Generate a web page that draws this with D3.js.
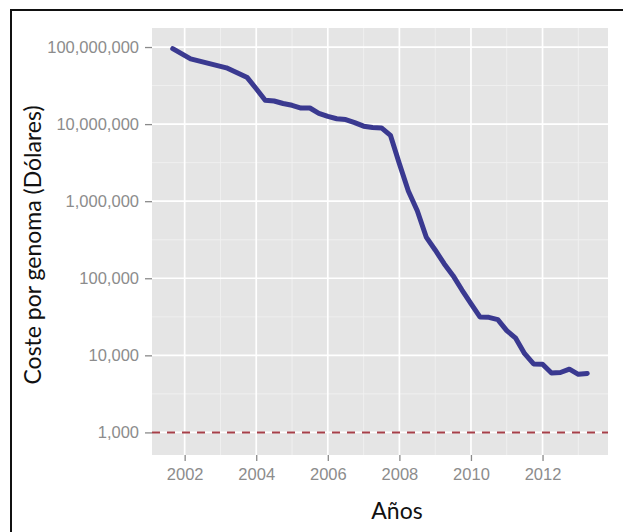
<!DOCTYPE html>
<html>
<head>
<meta charset="utf-8">
<script src="https://cdn.jsdelivr.net/npm/d3@7"></script>
<style>
  html, body { margin: 0; padding: 0; background: #fff; }
  svg { display: block; }
</style>
</head>
<body>
<svg id="chart" width="623" height="532"></svg>
<script>
// Sequencing cost per genome (USD), by quarter
const dates = [
  "2001-09", "2002-03", "2002-09", "2003-03", "2003-10", "2004-01", "2004-04",
  "2004-07", "2004-10", "2005-01", "2005-04", "2005-07", "2005-10", "2006-01",
  "2006-04", "2006-07", "2006-10", "2007-01", "2007-04", "2007-07", "2007-10",
  "2008-01", "2008-04", "2008-07", "2008-10", "2009-01", "2009-04", "2009-07",
  "2009-10", "2010-01", "2010-04", "2010-07", "2010-10", "2011-01", "2011-04",
  "2011-07", "2011-10", "2012-01", "2012-04", "2012-07", "2012-10", "2013-01",
  "2013-04"
];
const costs = [
  95263072, 70175437, 61448422, 53751684, 40153886, 28780376, 20442576,
  19934346, 18519312, 17534970, 16159699, 16180224, 13801124, 12585659,
  11732535, 11455315, 10474556, 9408739, 9047003, 8927342, 7147571,
  3063820, 1352982, 752080, 342502, 232735, 154714, 108065,
  70333, 46774, 31512, 31125, 29092, 20963, 16712,
  10497, 7743, 7666, 5901, 5985, 6618, 5671,
  5826
];
const referenceCost = 1000;             // dashed reference line
const yTicks = [1e3, 1e4, 1e5, 1e6, 1e7, 1e8];
const xTicks = [2002, 2004, 2006, 2008, 2010, 2012];
const xMinor = [2003, 2005, 2007, 2009, 2011, 2013];
const yMinorExp = [3.5, 4.5, 5.5, 6.5, 7.5];
const yTitle = "Coste por genoma (Dólares)";
const xTitle = "Años";

const toYear = s => { const [y, m] = s.split("-").map(Number); return y + (m - 1) / 12; };
const data = dates.map((d, i) => ({ t: toYear(d), v: costs[i] }));

const svg = d3.select("#chart");
const W = 623, H = 532;
const panel = { left: 152, right: 608, top: 28, bottom: 455 };

// outer frame
svg.append("rect")
  .attr("x", 11).attr("y", 10)
  .attr("width", W + 20).attr("height", H + 20)
  .attr("fill", "none").attr("stroke", "#111").attr("stroke-width", 2);

// scales with 5% expansion around the data + reference line
const tExt = d3.extent(data, d => d.t);
const tPad = (tExt[1] - tExt[0]) * 0.05;
const x = d3.scaleLinear().domain([tExt[0] - tPad, tExt[1] + tPad]).range([panel.left, panel.right]);
const y = d3.scaleLog().domain([Math.pow(10, 2.707), Math.pow(10, 8.247)]).range([panel.bottom, panel.top]);

// panel background
svg.append("rect")
  .attr("x", panel.left).attr("y", panel.top)
  .attr("width", panel.right - panel.left).attr("height", panel.bottom - panel.top)
  .attr("fill", "#e5e5e5");

const grid = svg.append("g");
// minor grid
grid.selectAll(".vminor").data(xMinor.filter(v => x(v) < panel.right)).enter().append("line")
  .attr("x1", d => x(d)).attr("x2", d => x(d))
  .attr("y1", panel.top).attr("y2", panel.bottom)
  .attr("stroke", "#f1f1f1").attr("stroke-width", 0.9);
grid.selectAll(".hminor").data(yMinorExp).enter().append("line")
  .attr("x1", panel.left).attr("x2", panel.right)
  .attr("y1", d => y(Math.pow(10, d))).attr("y2", d => y(Math.pow(10, d)))
  .attr("stroke", "#f1f1f1").attr("stroke-width", 0.9);
// major grid
grid.selectAll(".vmajor").data(xTicks).enter().append("line")
  .attr("x1", d => x(d)).attr("x2", d => x(d))
  .attr("y1", panel.top).attr("y2", panel.bottom)
  .attr("stroke", "#ffffff").attr("stroke-width", 1.7);
grid.selectAll(".hmajor").data(yTicks).enter().append("line")
  .attr("x1", panel.left).attr("x2", panel.right)
  .attr("y1", d => y(d)).attr("y2", d => y(d))
  .attr("stroke", "#ffffff").attr("stroke-width", 1.7);

// reference line
svg.append("line")
  .attr("x1", panel.left).attr("x2", panel.right)
  .attr("y1", y(referenceCost)).attr("y2", y(referenceCost))
  .attr("stroke", "#a63f48").attr("stroke-width", 2)
  .attr("stroke-dasharray", "8,7");

// cost line
svg.append("path")
  .datum(data)
  .attr("d", d3.line().x(d => x(d.t)).y(d => y(d.v)))
  .attr("fill", "none")
  .attr("stroke", "#3a3990")
  .attr("stroke-width", 5)
  .attr("stroke-linejoin", "round")
  .attr("stroke-linecap", "round");

// axes
const tickFont = "'Liberation Sans', Arial, sans-serif";
const yAxis = svg.append("g")
  .attr("transform", `translate(${panel.left},0)`)
  .call(d3.axisLeft(y).tickValues(yTicks).tickFormat(d3.format(",")).tickSize(7).tickPadding(6));
const xAxis = svg.append("g")
  .attr("transform", `translate(0,${panel.bottom})`)
  .call(d3.axisBottom(x).tickValues(xTicks).tickFormat(d3.format("d")).tickSize(6).tickPadding(7));
[yAxis, xAxis].forEach(g => {
  g.select(".domain").remove();
  g.selectAll(".tick line").attr("stroke", "#8a8a8a").attr("stroke-width", 1.3);
  g.selectAll(".tick text")
    .attr("fill", "#8c8c8c")
    .style("font-family", tickFont)
    .style("font-size", "16.5px");
});

// axis titles
const titleFont = "Lato, 'Open Sans', sans-serif";
svg.append("text")
  .attr("x", 397).attr("y", 519)
  .attr("text-anchor", "middle")
  .style("font-family", titleFont).style("font-size", "23px")
  .attr("fill", "#111")
  .text(xTitle);
svg.append("text")
  .attr("transform", "translate(41,245) rotate(-90)")
  .attr("text-anchor", "middle")
  .style("font-family", titleFont).style("font-size", "23px")
  .attr("fill", "#111")
  .text(yTitle);
</script>
</body>
</html>
